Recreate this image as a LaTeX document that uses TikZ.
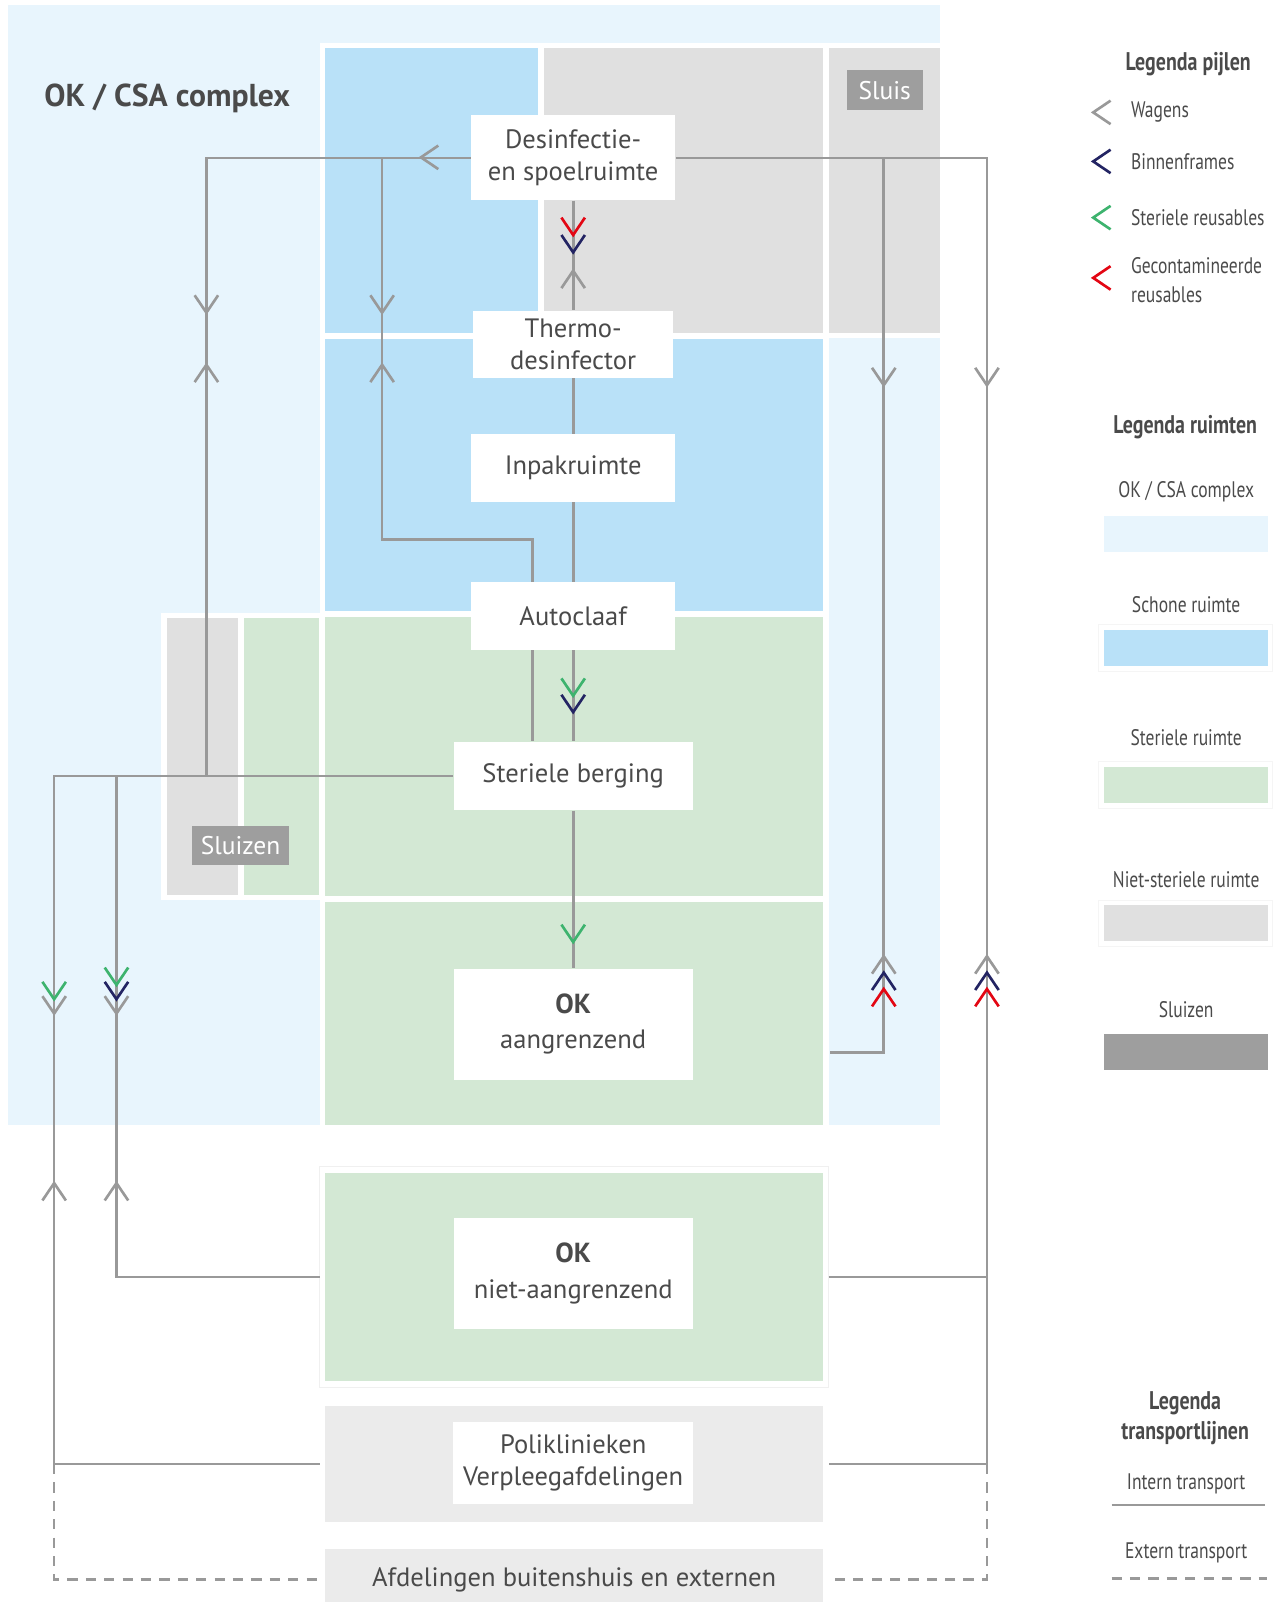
\documentclass[tikz,border=0pt]{standalone}
\usepackage{fontspec}
\setmainfont{PT Sans}
\newfontfamily\narrowfont[FakeStretch=0.78]{PT Sans}
\usetikzlibrary{arrows.meta,positioning,calc}
\definecolor{complexblue}{HTML}{E8F5FD}
\definecolor{cleanblue}{HTML}{B9E1F8}
\definecolor{sterilegreen}{HTML}{D3E8D4}
\definecolor{nonsterile}{HTML}{E0E0E0}
\definecolor{lockgray}{HTML}{9E9E9E}
\definecolor{wardgray}{HTML}{EBEBEB}
\definecolor{linegray}{HTML}{999999}
\definecolor{textgray}{HTML}{4A4A4A}
\definecolor{frames}{HTML}{232463}
\definecolor{sterile}{HTML}{3DB36E}
\definecolor{contam}{HTML}{E30613}
\tikzset{
  station/.style={fill=white,align=center,inner sep=0pt,text=textgray,font=\fontsize{13}{15.5}\selectfont},
  room/.style={inner sep=0pt,outer sep=2.5pt,minimum width=244pt,text=textgray,font=\fontsize{13}{15}\selectfont},
  lock/.style={fill=lockgray,text=white,inner sep=0pt,minimum height=19.5pt,font=\fontsize{12.5}{14}\selectfont},
  route/.style={draw=linegray,line width=1.3pt},
  extern/.style={route,dash pattern=on 5pt off 4pt},
  chevdown/.pic={\draw[line width=1.3pt] (-11.5,-17) -- (0,0) -- (11.5,-17);},
  chevup/.pic={\draw[line width=1.3pt] (-11.5,17) -- (0,0) -- (11.5,17);},
  chevleft/.pic={\draw[line width=1.3pt] (17,-11.5) -- (0,0) -- (17,11.5);},
  legtext/.style={text=textgray,font=\narrowfont\fontsize{11}{14}\selectfont},
  leghead/.style={text=textgray,align=center,font=\narrowfont\bfseries\fontsize{12.5}{14.5}\selectfont},
  swatch/.style={minimum width=80pt,minimum height=17.5pt,inner sep=0pt}
}

\begin{document}
\begin{tikzpicture}[x=0.5pt,y=-0.5pt]
    \useasboundingbox (0,0) rectangle (1246,1568);
    % ruimten
    \fill[complexblue] (8,5) rectangle (920,1101);
    \fill[white] (313,42) rectangle (920,331);
    \fill[white] (313,331) rectangle (811,1103);
    \fill[white] (158,600) rectangle (318,881);
    \fill[cleanblue] (318,47) rectangle (527,326);
    \fill[nonsterile] (532,47) rectangle (806,326);
    \fill[nonsterile] (811,47) rectangle (920,326);
    \fill[cleanblue] (318,332) rectangle (806,598);
    \fill[sterilegreen] (318,604) rectangle (806,877);
    \fill[nonsterile] (163,605) rectangle (233,876);
    \fill[sterilegreen] (239,605) rectangle (312,876);
    \node[room,fill=sterilegreen,minimum height=109pt] (okAroom) at (562,992) {};
    \draw[gray!12,fill=white] (313,1142) rectangle (811,1358);
    \node[room,fill=sterilegreen,minimum height=102pt] (okNroom) at (562,1250) {};
    \node[room,fill=wardgray,minimum height=57pt] (poliroom) at (562,1433) {};
    \node[room,fill=wardgray,minimum height=30pt] (afdroom) at (562,1546) {Afdelingen buitenshuis en externen};

    \node[anchor=base west,inner sep=0pt,text=textgray,font=\bfseries\fontsize{15.5}{19}\selectfont] (title) at (43,104) {OK / CSA complex};
    \node[lock,minimum width=37pt] (sluis) at (866,88.5) {Sluis};
    \node[lock,minimum width=47.5pt] (sluizen) at (235.5,827.5) {Sluizen};

    % stations
    \node[station,minimum width=100pt,minimum height=41.5pt] (des) at (561,154.5) {Desinfectie-\\en spoelruimte};
    \node[station,minimum width=98pt,minimum height=33pt] (thermo) at (561,337) {Thermo-\\desinfector};
    \node[station,minimum width=100pt,minimum height=33pt] (inpak) at (561,458) {Inpakruimte};
    \node[station,minimum width=100pt,minimum height=33pt] (auto) at (561,603) {Autoclaaf};
    \node[station,minimum width=117pt,minimum height=33.5pt] (ster) at (561,759.5) {Steriele berging};
    \node[station,minimum width=117pt,minimum height=54.5pt] (okA) at (561,1002.5) {\textbf{\fontsize{13.5}{15}\selectfont OK}\\[1.5pt]aangrenzend};
    \node[station,minimum width=117pt,minimum height=54.5pt] (okN) at (561,1246.5) {\textbf{\fontsize{13.5}{15}\selectfont OK}\\[2pt]niet-aangrenzend};
    \node[station,minimum width=117.5pt,minimum height=40pt] (poli) at (561,1432) {Poliklinieken\\Verpleegafdelingen};

    \coordinate (bT) at (374,154);
    \coordinate (bA) at (521,528);
    \coordinate (jL) at (202,760);
    \coordinate (bS) at (114,760);
    \coordinate (jPL) at (53,1433);
    \coordinate (jPR) at (966,1433);
    \coordinate (bR) at (865,154);
    \coordinate (okAend) at (812,1030);

    % transportlijnen
    \draw[route] (des.west) -| (jL);
    \draw[route] (bT) |- (bA) -- (bA |- auto.north);
    \draw[route] (ster.west) -| (jPL) -- (poliroom.west);
    \draw[route] (bS) |- (okNroom.west);
    \draw[route] (des.east) -| (jPR) -- (poliroom.east);
    \draw[route] (bR) |- (okAend);
    \draw[route] (okNroom.east) -- (okNroom.east -| jPR);
    \draw[route] (des.south) -- (thermo.north);
    \draw[route] (thermo.south) -- (inpak.north);
    \draw[route] (inpak.south) -- (auto.north);
    \draw[route] (auto.south) -- (ster.north);
    \draw[route] ([xshift=-20pt]auto.south) -- ([xshift=-20pt]ster.north);
    \draw[route] (ster.south) -- (okA.north);
    \draw[extern] (jPL) |- (afdroom.west);
    \draw[extern] (jPR) |- (afdroom.east);

    % pijlen
    \pic[linegray] at (412,154) {chevleft};
    \foreach \x in {202,374} {
      \pic[linegray] at (\x,306) {chevdown};
      \pic[linegray] at (\x,357) {chevup};
    }
    \pic[contam] at (561,230) {chevdown};
    \pic[frames] at (561,247) {chevdown};
    \pic[linegray] at (561,265) {chevup};
    \pic[sterile] at (561,681) {chevdown};
    \pic[frames] at (561,697) {chevdown};
    \pic[sterile] at (561,922) {chevdown};
    \pic[sterile] at (53,978) {chevdown};
    \pic[linegray] at (53,992) {chevdown};
    \pic[sterile] at (114,964) {chevdown};
    \pic[frames] at (114,978) {chevdown};
    \pic[linegray] at (114,992) {chevdown};
    \pic[linegray] at (53,1158) {chevup};
    \pic[linegray] at (114,1158) {chevup};
    \foreach \x in {865,966} {
      \pic[linegray] at (\x,377) {chevdown};
      \pic[linegray] at (\x,936) {chevup};
      \pic[frames] at (\x,952) {chevup};
      \pic[contam] at (\x,968) {chevup};
    }

    % legenda
    \node[leghead] (legArrows) at (1163,63) {Legenda pijlen};
    \pic[linegray] at (1070,110) {chevleft};
    \pic[frames] at (1070,158) {chevleft};
    \pic[sterile] at (1070,213) {chevleft};
    \pic[contam] at (1070,272) {chevleft};
    \node[legtext,anchor=west] (wagens) at (1100,110) {Wagens};
    \node[legtext,anchor=west] (frameslbl) at (1100,158) {Binnenframes};
    \node[legtext,anchor=west] (sterlbl) at (1100,213) {Steriele reusables};
    \node[legtext,anchor=west,align=left] (contlbl) at (1100,274) {Gecontamineerde\\reusables};

    \node[leghead] (legRooms) at (1160,418) {Legenda ruimten};
    \node[legtext] (lcomplex) at (1161,481) {OK / CSA complex};
    \node[swatch,fill=complexblue] (scomplex) at (1161,522.5) {};
    \node[legtext] (lclean) at (1161,592) {Schone ruimte};
    \draw[gray!8] (1075,611) rectangle (1245,657);
    \node[swatch,fill=cleanblue] (sclean) at (1161,634) {};
    \node[legtext] (lsterile) at (1161,722) {Steriele ruimte};
    \draw[gray!8] (1075,745) rectangle (1245,791);
    \node[swatch,fill=sterilegreen] (ssterile) at (1161,768) {};
    \node[legtext] (lnonsterile) at (1161,861) {Niet-steriele ruimte};
    \draw[gray!8] (1075,881) rectangle (1245,926);
    \node[swatch,fill=nonsterile] (snonsterile) at (1161,903.5) {};
    \node[legtext] (llock) at (1161,988) {Sluizen};
    \node[swatch,fill=lockgray] (slock) at (1161,1029.5) {};

    \node[leghead] (legLines) at (1160,1388) {Legenda\\transportlijnen};
    \node[legtext] (lintern) at (1161,1452) {Intern transport};
    \draw[route] (1088,1473) -- (1238,1473);
    \node[legtext] (lextern) at (1161,1520) {Extern transport};
    \draw[extern] (1088,1545) -- (1240,1545);
  \end{tikzpicture}
\end{document}
